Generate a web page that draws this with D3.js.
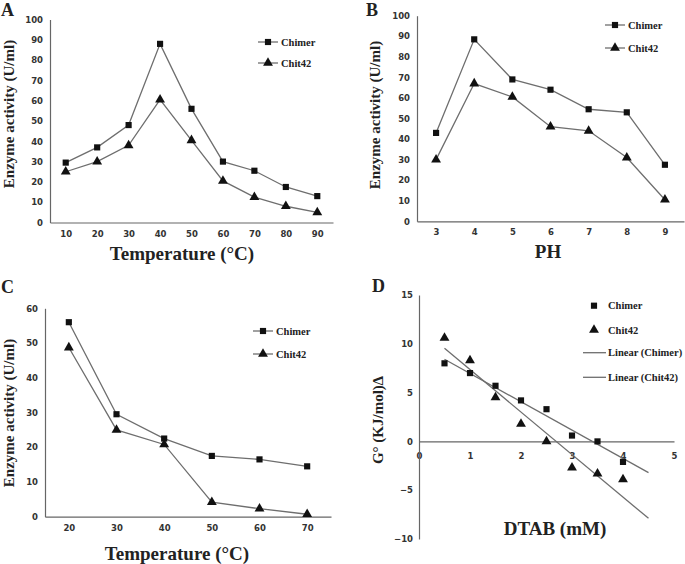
<!DOCTYPE html>
<html>
<head>
<meta charset="utf-8">
<script src="https://cdn.jsdelivr.net/npm/d3@7"></script>
<style>
  html, body { margin: 0; padding: 0; background: #fff; }
  svg { display: block; }
  .tick text { font-family: "DejaVu Sans", Verdana, sans-serif; font-weight: bold; font-size: 8.5px; fill: #333; }
  .ttl { font-family: "Liberation Serif", "Times New Roman", serif; font-weight: bold; fill: #222; }
</style>
</head>
<body>
<script>
// ---------- DATA ----------
const tempA = [10, 20, 30, 40, 50, 60, 70, 80, 90];
const chimerA = [29.5, 37, 48, 88, 56, 30, 25.5, 17.5, 13];
const chit42A = [25, 30, 38, 60.5, 40.5, 20.5, 12.5, 8, 5];
const yTicksA = [0, 10, 20, 30, 40, 50, 60, 70, 80, 90, 100];

const phB = [3, 4, 5, 6, 7, 8, 9];
const chimerB = [43, 88.5, 69, 64, 54.5, 53, 27.5];
const chit42B = [30, 67, 60.5, 46, 44, 31, 10.5];
const yTicksB = [0, 10, 20, 30, 40, 50, 60, 70, 80, 90, 100];

const tempC = [20, 30, 40, 50, 60, 70];
const chimerC = [56, 29.5, 22.5, 17.5, 16.5, 14.5];
const chit42C = [48.7, 25, 20.8, 4.2, 2.3, 0.7];
const yTicksC = [0, 10, 20, 30, 40, 50, 60];

const dtabD = [0.5, 1, 1.5, 2, 2.5, 3, 3.5, 4];
const chimerD = [8, 7, 5.7, 4.2, 3.3, 0.6, 0, -2.1];
const chit42D = [10.6, 8.3, 4.5, 1.8, 0, -2.7, -3.3, -3.9];
const xTicksD = [0, 1, 2, 3, 4, 5];
const yTicksD = [-10, -5, 0, 5, 10, 15];
const trendRangeD = [0.5, 4.5];

const seriesNames = ["Chimer", "Chit42"];
const trendNames = ["Linear (Chimer)", "Linear (Chit42)"];

// ---------- DRAW ----------
const W = 685, H = 564;
const svg = d3.select("body").append("svg").attr("width", W).attr("height", H);

const LINE = "#6e6e6e", AXIS = "#666", MARK = "#111";
const sq = d3.symbol().type(d3.symbolSquare).size(38);
const tri = d3.symbol().type(d3.symbolTriangle).size(42);
const symbols = [sq, tri];

function styleAxis(g) {
  g.select(".domain").attr("stroke", AXIS).attr("stroke-width", 1.2);
  g.selectAll(".tick line").remove();
}

function catPanel(p) {
  const g = svg.append("g");
  const x = d3.scalePoint().domain(p.cats).range(p.xr).padding(0.5);
  const y = d3.scaleLinear().domain([0, p.yTicks[p.yTicks.length - 1]]).range(p.yr);

  g.append("g").attr("transform", `translate(0,${p.yr[0]})`)
    .call(d3.axisBottom(x).tickSize(0).tickPadding(8)).call(styleAxis);
  g.append("g").attr("transform", `translate(${p.xr[0]},0)`)
    .call(d3.axisLeft(y).tickValues(p.yTicks).tickSize(0).tickPadding(7)).call(styleAxis);

  const line = d3.line().x((d, i) => x(p.cats[i])).y(d => y(d));
  p.series.forEach((s, k) => {
    g.append("path").datum(s).attr("d", line).attr("fill", "none")
      .attr("stroke", LINE).attr("stroke-width", 1.3);
    g.selectAll(null).data(s).enter().append("path")
      .attr("d", symbols[k])
      .attr("transform", (d, i) => `translate(${x(p.cats[i])},${y(d)})`)
      .attr("fill", MARK);
  });

  // legend
  seriesNames.forEach((n, k) => {
    const ly = p.leg.y[k];
    g.append("line").attr("x1", p.leg.x).attr("x2", p.leg.x + 20)
      .attr("y1", ly).attr("y2", ly).attr("stroke", LINE).attr("stroke-width", 1.3);
    g.append("path").attr("d", symbols[k]).attr("transform", `translate(${p.leg.x + 10},${ly})`).attr("fill", MARK);
    g.append("text").attr("class", "ttl").attr("x", p.leg.x + 23).attr("y", ly)
      .attr("dominant-baseline", "central").style("font-size", "10.5px").text(n);
  });

  // titles
  g.append("text").attr("class", "ttl").attr("x", p.xt[0]).attr("y", p.xt[1])
    .attr("text-anchor", "middle").style("font-size", "19px").text(p.xTitle);
  g.append("text").attr("class", "ttl")
    .attr("transform", `translate(${p.yt[0]},${p.yt[1]}) rotate(-90)`)
    .attr("text-anchor", "middle").attr("dominant-baseline", "central")
    .style("font-size", "15px").text(p.yTitle);
  g.append("text").attr("class", "ttl").attr("x", p.lab[0]).attr("y", p.lab[1])
    .style("font-size", "18px").text(p.label);
}

catPanel({
  cats: tempA, series: [chimerA, chit42A], yTicks: yTicksA,
  xr: [50, 333], yr: [222.5, 19.5],
  leg: { x: 258, y: [42, 63] },
  xTitle: "Temperature (°C)", xt: [182, 260],
  yTitle: "Enzyme activity (U/ml)", yt: [9, 114],
  label: "A", lab: [1, 16]
});

catPanel({
  cats: phB, series: [chimerB, chit42B], yTicks: yTicksB,
  xr: [417, 684], yr: [221.3, 15.7],
  leg: { x: 605, y: [25, 48] },
  xTitle: "PH", xt: [548, 258],
  yTitle: "Enzyme activity (U/ml)", yt: [375, 115],
  label: "B", lab: [366, 16]
});

catPanel({
  cats: tempC, series: [chimerC, chit42C], yTicks: yTicksC,
  xr: [45, 331], yr: [516.7, 308.3],
  leg: { x: 253, y: [331, 354] },
  xTitle: "Temperature (°C)", xt: [177, 560],
  yTitle: "Enzyme activity (U/ml)", yt: [8.5, 413],
  label: "C", lab: [1, 293]
});

// ---------- Panel D ----------
(function () {
  const g = svg.append("g");
  const x = d3.scaleLinear().domain([0, 5]).range([419, 674]);
  const y = d3.scaleLinear().domain([-10, 15]).range([539, 295]);

  g.append("g").attr("transform", `translate(0,${y(0)})`)
    .call(d3.axisBottom(x).tickValues(xTicksD).tickFormat(d3.format("d")).tickSize(0).tickPadding(12)).call(styleAxis);
  g.append("g").attr("transform", `translate(${x(0)},0)`)
    .call(d3.axisLeft(y).tickValues(yTicksD).tickSize(0).tickPadding(6)).call(styleAxis);

  // regression trend lines
  function fit(xs, ys) {
    const mx = d3.mean(xs), my = d3.mean(ys);
    const sxy = d3.sum(xs, (v, i) => (v - mx) * (ys[i] - my));
    const sxx = d3.sum(xs, v => (v - mx) * (v - mx));
    const b = sxy / sxx, a = my - b * mx;
    return v => a + b * v;
  }
  [chimerD, chit42D].forEach(s => {
    const f = fit(dtabD, s);
    g.append("line")
      .attr("x1", x(trendRangeD[0])).attr("y1", y(f(trendRangeD[0])))
      .attr("x2", x(trendRangeD[1])).attr("y2", y(f(trendRangeD[1])))
      .attr("stroke", LINE).attr("stroke-width", 1.3);
  });
  [chimerD, chit42D].forEach((s, k) => {
    g.selectAll(null).data(s).enter().append("path")
      .attr("d", symbols[k])
      .attr("transform", (d, i) => `translate(${x(dtabD[i])},${y(d)})`)
      .attr("fill", MARK);
  });

  // legend
  const legY = [305.7, 330, 352.7, 377.3];
  seriesNames.forEach((n, k) => {
    g.append("path").attr("d", symbols[k]).attr("transform", `translate(${594},${legY[k]})`).attr("fill", MARK);
    g.append("text").attr("class", "ttl").attr("x", 608).attr("y", legY[k])
      .attr("dominant-baseline", "central").style("font-size", "10.5px").text(n);
  });
  trendNames.forEach((n, k) => {
    const ly = legY[k + 2];
    g.append("line").attr("x1", 583).attr("x2", 606).attr("y1", ly).attr("y2", ly)
      .attr("stroke", LINE).attr("stroke-width", 1.3);
    g.append("text").attr("class", "ttl").attr("x", 608).attr("y", ly)
      .attr("dominant-baseline", "central").style("font-size", "10.5px").text(n);
  });

  g.append("text").attr("class", "ttl").attr("x", 555).attr("y", 535)
    .attr("text-anchor", "middle").style("font-size", "19px").text("DTAB (mM)");
  g.append("text").attr("class", "ttl")
    .attr("transform", `translate(378,420) rotate(-90)`)
    .attr("text-anchor", "middle").attr("dominant-baseline", "central")
    .style("font-size", "15px").text("G° (KJ/mol)∆");
  g.append("text").attr("class", "ttl").attr("x", 372).attr("y", 292)
    .style("font-size", "18px").text("D");
})();
</script>
</body>
</html>
